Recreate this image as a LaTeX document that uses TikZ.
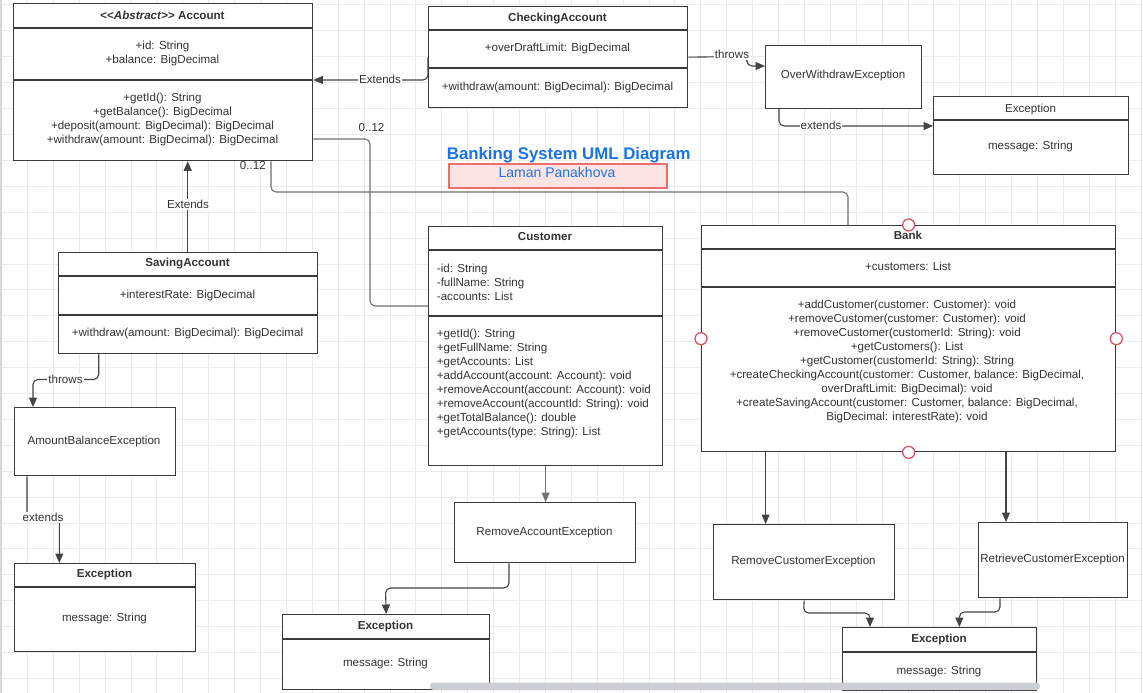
\documentclass[tikz,border=0pt]{standalone}
\usepackage{fontspec}
\setmainfont{Liberation Sans}
\usetikzlibrary{arrows.meta}

\definecolor{ink}{HTML}{3A3A3A}
\definecolor{txt}{HTML}{333333}
\definecolor{wire}{HTML}{444444}
\definecolor{wirelight}{HTML}{707070}
\definecolor{gridline}{HTML}{EBEBEB}
\definecolor{titleblue}{HTML}{1A73E8}
\definecolor{namefill}{HTML}{FDE4E4}
\definecolor{namedraw}{HTML}{EE6E6E}
\definecolor{portred}{HTML}{E5505E}
\definecolor{scroll}{HTML}{CBCFD4}
\definecolor{edge}{HTML}{D6D6D6}

\begin{document}
\begin{tikzpicture}[x=1pt,y=-1pt,
  box/.style={draw=ink, line width=1.3pt, fill=white, inner sep=0pt, anchor=north west},
  sep/.style={draw=ink, line width=1.3pt},
  line/.style={text=txt, font=\fontsize{11.6}{14}\selectfont, inner sep=0pt, text height=8.4pt, text depth=0pt},
  bline/.style={line, font=\fontsize{11.6}{14}\selectfont\bfseries},
  block/.style={text=txt, font=\fontsize{11.6}{14}\selectfont, inner sep=0pt, align=center},
  lblock/.style={block, align=left, anchor=west},
  lbl/.style={line, fill=white, inner sep=1pt},
  conn/.style={draw=wire, line width=1.1pt, rounded corners=5pt},
  arr/.style={conn, -{Triangle[length=9.5pt,width=8pt]}},
  port/.style={circle, draw=portred, fill=white, line width=1.3pt, minimum size=12pt, inner sep=0pt}
]

\useasboundingbox (0,0) rectangle (1143,693);

% canvas with grid
\fill[white] (0,0) rectangle (1143,693);
\foreach \i in {0,...,44}{
  \pgfmathsetmacro\gx{1.5+25.9*\i}
  \draw[gridline, line width=1pt] (\gx,0) -- (\gx,693);
}
\foreach \j in {0,...,26}{
  \pgfmathsetmacro\gy{5+25.9*\j}
  \draw[gridline, line width=1pt] (0,\gy) -- (1143,\gy);
}
\draw[edge, line width=2.5pt] (1.2,0) -- (1.2,693);

% ---------- Account ----------
\node[box, minimum width=299pt, minimum height=157pt] (acc) at (13,3) {};
\draw[sep] (acc.west |- 0,28) -- (acc.east |- 0,28);
\draw[sep] (acc.west |- 0,80) -- (acc.east |- 0,80);
\node[bline] (acct) at (162.5,15) {<{}<\textit{Abstract}>{}> Account};
\node[block] (acca) at (162.5,53.2) {+id: String\\+balance: BigDecimal};
\node[block] (accm) at (162.5,119.2) {+getId(): String\\+getBalance(): BigDecimal\\+deposit(amount: BigDecimal): BigDecimal\\+withdraw(amount: BigDecimal): BigDecimal};

% ---------- CheckingAccount ----------
\node[box, minimum width=259pt, minimum height=101pt] (chk) at (428,6) {};
\draw[sep] (chk.west |- 0,30) -- (chk.east |- 0,30);
\draw[sep] (chk.west |- 0,68) -- (chk.east |- 0,68);
\node[bline] (chkt) at (557.5,17) {CheckingAccount};
\node[line] (chka) at (557.5,47.5) {+overDraftLimit: BigDecimal};
\node[line] (chkm) at (557.5,86.5) {+withdraw(amount: BigDecimal): BigDecimal};

% ---------- OverWithdrawException ----------
\node[box, minimum width=156pt, minimum height=63pt] (owe) at (765,45) {};
\node[line] (owet) at (843,74.5) {OverWithdrawException};

% ---------- Exception (top right) ----------
\node[box, minimum width=195pt, minimum height=78pt] (exa) at (933,96) {};
\draw[sep] (exa.west |- 0,120) -- (exa.east |- 0,120);
\node[line] (exat) at (1030.5,108) {Exception};
\node[line] (exam) at (1030.5,145.7) {message: String};

% ---------- heading ----------
\node[text=titleblue, font=\fontsize{16.8}{20}\selectfont\bfseries, inner sep=0pt, text height=12pt, text depth=0pt] (heading) at (568.7,153.5) {Banking System UML Diagram};
\node[draw=namedraw, fill=namefill, line width=1.5pt, minimum width=218pt, minimum height=24pt, inner sep=0pt, anchor=north west] (namebox) at (448,163) {};
\node[text=titleblue, font=\fontsize{14}{16}\selectfont, inner sep=0pt, text height=10pt, text depth=0pt] (author) at (557,172.5) {Laman Panakhova};

% ---------- SavingAccount ----------
\node[box, minimum width=259pt, minimum height=101pt] (sav) at (58,252) {};
\draw[sep] (sav.west |- 0,276) -- (sav.east |- 0,276);
\draw[sep] (sav.west |- 0,315) -- (sav.east |- 0,315);
\node[bline] (savt) at (187.5,262.7) {SavingAccount};
\node[line] (sava) at (187.5,294.3) {+interestRate: BigDecimal};
\node[line] (savm) at (187.5,332.7) {+withdraw(amount: BigDecimal): BigDecimal};

% ---------- AmountBalanceException ----------
\node[box, minimum width=161pt, minimum height=68pt] (abe) at (14,407) {};
\node[line] (abet) at (94,440) {AmountBalanceException};

% ---------- Exception (bottom left) ----------
\node[box, minimum width=181pt, minimum height=88pt] (exb) at (14,563) {};
\draw[sep] (exb.west |- 0,587) -- (exb.east |- 0,587);
\node[bline] (exbt) at (104.5,573.7) {Exception};
\node[line] (exbm) at (104.5,617.3) {message: String};

% ---------- Customer ----------
\node[box, minimum width=234pt, minimum height=239pt] (cus) at (428,226) {};
\draw[sep] (cus.west |- 0,250) -- (cus.east |- 0,250);
\draw[sep] (cus.west |- 0,316) -- (cus.east |- 0,316);
\node[bline] (cust) at (545,236.5) {Customer};
\node[lblock] (cusa) at (436.7,282.5) {-id: String\\-fullName: String\\-accounts: List};
\node[lblock] (cusm) at (436.7,383) {+getId(): String\\+getFullName: String\\+getAccounts: List\\+addAccount(account: Account): void\\+removeAccount(account: Account): void\\+removeAccount(accountId: String): void\\+getTotalBalance(): double\\+getAccounts(type: String): List};

% ---------- RemoveAccountException ----------
\node[box, minimum width=181pt, minimum height=60pt] (rae) at (454,502) {};
\node[line] (raet) at (544.5,531.7) {RemoveAccountException};

% ---------- Exception (bottom middle) ----------
\node[box, minimum width=207pt, minimum height=75pt] (exc) at (282,614) {};
\draw[sep] (exc.west |- 0,639) -- (exc.east |- 0,639);
\node[bline] (exct) at (385.5,625.7) {Exception};
\node[line] (excm) at (385.5,662.7) {message: String};

% ---------- Bank ----------
\node[box, minimum width=414pt, minimum height=226pt] (bank) at (701,225) {};
\draw[sep] (bank.west |- 0,249) -- (bank.east |- 0,249);
\draw[sep] (bank.west |- 0,287) -- (bank.east |- 0,287);
\node[bline] (bankt) at (908,235.5) {Bank};
\node[line] (banka) at (908,266.7) {+customers: List};
\node[block] (bankm) at (907,361.9) {+addCustomer(customer: Customer): void\\+removeCustomer(customer: Customer): void\\+removeCustomer(customerId: String): void\\+getCustomers(): List\\+getCustomer(customerId: String): String\\+createCheckingAccount(customer: Customer, balance: BigDecimal,\\overDraftLimit: BigDecimal): void\\+createSavingAccount(customer: Customer, balance: BigDecimal,\\BigDecimal: interestRate): void};

% ---------- RemoveCustomerException / RetrieveCustomerException ----------
\node[box, minimum width=181pt, minimum height=75pt] (rmc) at (713,524) {};
\node[line] (rmct) at (803.5,560) {RemoveCustomerException};
\node[box, minimum width=149pt, minimum height=75pt] (rtc) at (978,522) {};
\node[line] (rtct) at (1052.5,558.3) {RetrieveCustomerException};

% ---------- Exception (bottom right) ----------
\node[box, minimum width=194pt, minimum height=63pt] (exd) at (842,627) {};
\draw[sep] (exd.west |- 0,652) -- (exd.east |- 0,652);
\node[bline] (exdt) at (939,638.7) {Exception};
\node[line] (exdm) at (939,670) {message: String};

% ---------- connectors ----------
% CheckingAccount extends Account
\draw[arr] (chk.west) -- (chk.west |- 0,80) -- (acc.east |- 0,80);
\node[lbl] (lchk) at (380,79) {Extends};
% CheckingAccount throws OverWithdrawException
\draw[arr] (chk.east) -- (747,56.5) -- (747,66) -- (owe.west |- 0,66);
\node[lbl] (lthr) at (732,54.5) {throws};
% OverWithdrawException extends Exception
\draw[arr] (779,108) -- (779,126) -- (exa.west |- 0,126);
\node[lbl] (lowe) at (821,125) {extends};
% SavingAccount extends Account
\draw[arr] (sav.north -| 187.7,0) -- (acc.south -| 187.7,0);
\node[lbl] (lsav) at (188,204.3) {Extends};
% SavingAccount throws AmountBalanceException
\draw[arr] (sav.south -| 98.7,0) -- (98.7,379.5) -- (33,379.5) -- (abe.north -| 33,0);
\node[lbl] (lsthr) at (65.5,379) {throws};
% AmountBalanceException extends Exception
\draw[arr] (abe.south -| 27,0) -- (27,517.5) -- (59.3,517.5) -- (exb.north -| 59.3,0);
\node[lbl] (labe) at (43,517.5) {extends};
% Account -- Customer (0..12)
\draw[conn, draw=wirelight] (acc.east |- 0,139) -- (370,139) -- (370,306) -- (cus.west |- 0,306);
\node[line] (m1) at (371.5,127.5) {0..12};
% Account -- Bank (0..12)
\draw[conn, draw=wirelight] (acc.south -| 271,0) -- (271,192) -- (848,192) -- (bank.north -| 848,0);
\node[line] (m2) at (252.8,165.5) {0..12};
% Customer throws RemoveAccountException
\draw[arr, draw=wirelight] (cus.south) -- (rae.north -| cus.south);
% RemoveAccountException extends Exception
\draw[arr] (rae.south -| 509,0) -- (509,588) -- (385.5,588) -- (exc.north);
% Bank throws the customer exceptions
\draw[arr] (bank.south -| 765.6,0) -- (rmc.north -| 765.6,0);
\draw[arr] (bank.south -| 1006,0) -- (rtc.north -| 1006,0);
% customer exceptions extend Exception
\draw[arr] (rmc.south) -- (803.5,613) -- (870,613) -- (exd.north -| 870,0);
\draw[arr] (rtc.south -| 1000,0) -- (1000,612) -- (959.4,612) -- (exd.north -| 959.4,0);

% connection points of Bank
\node[port] (pn) at (bank.north) {};
\node[port] (ps) at (bank.south) {};
\node[port] (pw) at (bank.west) {};
\node[port] (pe) at (bank.east) {};

% horizontal scrollbar
\fill[scroll, rounded corners=3.5pt] (430,682.5) rectangle (1040,690);

\end{tikzpicture}
\end{document}
